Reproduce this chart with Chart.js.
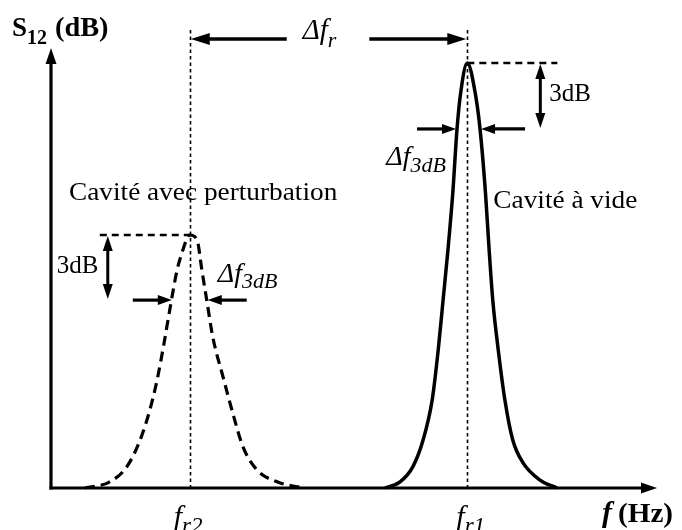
<!DOCTYPE html>
<html>
<head>
<meta charset="utf-8">
<script src="https://cdn.jsdelivr.net/npm/chart.js@4.4.1/dist/chart.umd.min.js"></script>
<style>
  html, body { margin: 0; padding: 0; background: #fff; }
  canvas { display: block; background: #fff; }
</style>
</head>
<body>
<canvas id="c" width="682" height="530"></canvas>
<script>
// arbitrary units: f 0..100 along the axis, S12 0..100 up the axis
const freqPerturbed = [5.6, 9.7, 12.5, 14.7, 16.3, 17.5, 18.6, 19.6, 20.8, 21.6, 22.9, 24.1, 24.9, 25.7, 26.7, 28.4, 30.0, 31.7, 34.0, 37.3, 41.6];
const s12Perturbed = [0, 1.4, 4.8, 10.9, 17.7, 24.5, 32.5, 40.5, 49.5, 53.4, 57.5, 56.4, 49.5, 42.7, 34.3, 25.2, 17.0, 9.3, 4.1, 1.4, 0];
const freqEmpty = [55.1, 57.6, 59.7, 61.4, 62.9, 63.9, 64.7, 65.5, 66.3, 67.0, 67.6, 68.7, 70.0, 70.8, 71.7, 72.3, 72.9, 73.8, 74.9, 76.2, 77.9, 80.7, 83.5];
const s12Empty = [0, 1.4, 4.8, 10.9, 20.0, 31.4, 42.7, 54.1, 67.0, 81.6, 89.8, 96.6, 89.8, 81.6, 67.0, 54.1, 42.7, 31.4, 20.0, 10.9, 5.7, 1.8, 0];

const resonances = [22.9, 68.7];      // f_r2, f_r1
const peakLevels = [57.5, 96.6];
const halfPowerLevels = [42.7, 81.6]; // -3 dB
const halfPowerLeft = [20.1, 67.0];
const halfPowerRight = [25.7, 70.8];

const SERIF = '"Liberation Serif", "DejaVu Serif", serif';

function toPoints(xs, ys) {
  return xs.map(function(x, i) { return { x: x, y: ys[i] }; });
}

function seg(ctx, x1, y1, x2, y2, w, dash) {
  ctx.save();
  ctx.lineWidth = w;
  ctx.setLineDash(dash || []);
  ctx.beginPath();
  ctx.moveTo(x1, y1);
  ctx.lineTo(x2, y2);
  ctx.stroke();
  ctx.restore();
}

// filled head with tip at (x, y), pointing along angle
function head(ctx, x, y, angle, len, half) {
  ctx.save();
  ctx.translate(x, y);
  ctx.rotate(angle);
  ctx.beginPath();
  ctx.moveTo(0, 0);
  ctx.lineTo(-len, -half);
  ctx.lineTo(-len, half);
  ctx.closePath();
  ctx.fill();
  ctx.restore();
}

function arrow(ctx, x1, y1, x2, y2, w, len, half) {
  const a = Math.atan2(y2 - y1, x2 - x1);
  seg(ctx, x1, y1, x2 - Math.cos(a) * (len - 2), y2 - Math.sin(a) * (len - 2), w);
  head(ctx, x2, y2, a, len, half);
}

function vDouble(ctx, x, yTop, yBot) {
  seg(ctx, x, yTop + 10, x, yBot - 10, 3);
  head(ctx, x, yTop, -Math.PI / 2, 15, 5);
  head(ctx, x, yBot, Math.PI / 2, 15, 5);
}

function text(ctx, str, x, base, font, sx) {
  ctx.save();
  ctx.font = font;
  ctx.translate(x, base);
  ctx.scale(sx || 1, 1);
  ctx.fillText(str, 0, 0);
  const w = ctx.measureText(str).width * (sx || 1);
  ctx.restore();
  return w;
}

function subText(ctx, main, sub, x, base, mainFont, subFont, dy) {
  const w = text(ctx, main, x, base, mainFont);
  return w + text(ctx, sub, x + w, base + dy, subFont);
}

const schematic = {
  id: 'schematic',
  beforeDatasetsDraw(chart) {
    const ctx = chart.ctx;
    const xs = chart.scales.x, ys = chart.scales.y;
    const base = ys.getPixelForValue(0);
    ctx.save();
    ctx.strokeStyle = '#000';
    resonances.forEach(function(f) {
      const px = Math.round(xs.getPixelForValue(f)) + 0.5;
      seg(ctx, px, 30, px, base, 1.6, [3.5, 3]);
    });
    ctx.restore();
  },
  afterDatasetsDraw(chart) {
    const ctx = chart.ctx;
    const xs = chart.scales.x, ys = chart.scales.y;
    const area = chart.chartArea;
    const X = function(v) { return xs.getPixelForValue(v); };
    const Y = function(v) { return ys.getPixelForValue(v); };
    ctx.save();
    ctx.strokeStyle = '#000';
    ctx.fillStyle = '#000';
    ctx.textBaseline = 'alphabetic';

    // axes
    const x0 = area.left, y0 = area.bottom;
    seg(ctx, x0 - 1.5, y0, area.right - 12, y0, 3.2);
    head(ctx, area.right, y0, 0, 16, 5.5);
    seg(ctx, x0, y0 + 1.5, x0, area.top + 12, 3.2);
    head(ctx, x0, area.top, -Math.PI / 2, 16, 5.5);

    const fr2 = X(resonances[0]), fr1 = X(resonances[1]);

    // delta f_r
    arrow(ctx, fr2 + 97, 39, fr2 + 1, 39, 3.5, 19, 6);
    arrow(ctx, fr1 - 98, 39, fr1 - 1, 39, 3.5, 19, 6);
    subText(ctx, '\u0394f', 'r', fr2 + 113, 39, 'italic 29px ' + SERIF, 'italic 22px ' + SERIF, 8);

    // empty cavity peak
    const p1 = Y(peakLevels[1]), h1 = Y(halfPowerLevels[1]);
    seg(ctx, fr1, p1, fr1 + 90, p1, 2.5, [7, 5]);
    vDouble(ctx, fr1 + 73, p1 + 1, h1 - 1);
    arrow(ctx, X(halfPowerLeft[1]) - 40, h1, X(halfPowerLeft[1]) - 1, h1, 3.2, 14, 5);
    arrow(ctx, X(halfPowerRight[1]) + 45, h1, X(halfPowerRight[1]) + 1, h1, 3.2, 14, 5);
    text(ctx, '3dB', fr1 + 82, 101, '25px ' + SERIF);
    subText(ctx, '\u0394f', '3dB', fr1 - 81, 165, 'italic 28px ' + SERIF, 'italic 22px ' + SERIF, 7);
    text(ctx, 'Cavit\u00e9 \u00e0 vide', fr1 + 26, 208, '26px ' + SERIF, 1.05);

    // perturbed cavity peak
    const p2 = Y(peakLevels[0]), h2 = Y(halfPowerLevels[0]);
    seg(ctx, fr2 - 90, p2, fr2, p2, 2.5, [7, 5]);
    vDouble(ctx, fr2 - 82, p2 + 1, h2 - 1);
    arrow(ctx, X(halfPowerLeft[0]) - 40, h2, X(halfPowerLeft[0]) - 1, h2, 3.2, 14, 5);
    arrow(ctx, X(halfPowerRight[0]) + 40, h2, X(halfPowerRight[0]) + 1, h2, 3.2, 14, 5);
    text(ctx, '3dB', fr2 - 133, 273, '25px ' + SERIF);
    subText(ctx, '\u0394f', '3dB', fr2 + 28, 282, 'italic 28px ' + SERIF, 'italic 22px ' + SERIF, 6);
    text(ctx, 'Cavit\u00e9 avec perturbation', 69, 200, '26px ' + SERIF, 1.05);

    // axis titles
    subText(ctx, 'S', '12', 12, 36, 'bold 27px ' + SERIF, 'bold 20px ' + SERIF, 8);
    text(ctx, '(dB)', 55, 36, 'bold 27px ' + SERIF, 1.05);
    const fw = text(ctx, 'f', 602, 522, 'italic bold 30px ' + SERIF);
    text(ctx, '(Hz)', 602 + fw + 6, 522, 'bold 27px ' + SERIF, 1.08);

    subText(ctx, 'f', 'r2', fr2 - 16, 526, 'italic 30px ' + SERIF, 'italic 23px ' + SERIF, 7);
    subText(ctx, 'f', 'r1', fr1 - 11, 526, 'italic 30px ' + SERIF, 'italic 23px ' + SERIF, 7);
    ctx.restore();
  }
};

new Chart(document.getElementById('c'), {
  type: 'line',
  data: {
    datasets: [
      {
        label: 'Cavité avec perturbation',
        data: toPoints(freqPerturbed, s12Perturbed),
        borderColor: '#000',
        borderWidth: 3.2,
        borderDash: [10, 6],
        pointRadius: 0,
        fill: false,
        cubicInterpolationMode: 'monotone',
        clip: false
      },
      {
        label: 'Cavité à vide',
        data: toPoints(freqEmpty, s12Empty),
        borderColor: '#000',
        borderWidth: 3.5,
        pointRadius: 0,
        fill: false,
        cubicInterpolationMode: 'monotone',
        clip: false
      }
    ]
  },
  options: {
    responsive: false,
    animation: false,
    devicePixelRatio: 1,
    layout: { padding: { left: 51, right: 25, top: 48, bottom: 42 } },
    plugins: { legend: { display: false }, tooltip: { enabled: false } },
    scales: {
      x: { type: 'linear', min: 0, max: 100, display: false },
      y: { type: 'linear', min: 0, max: 100, display: false }
    }
  },
  plugins: [schematic]
});
</script>
</body>
</html>
